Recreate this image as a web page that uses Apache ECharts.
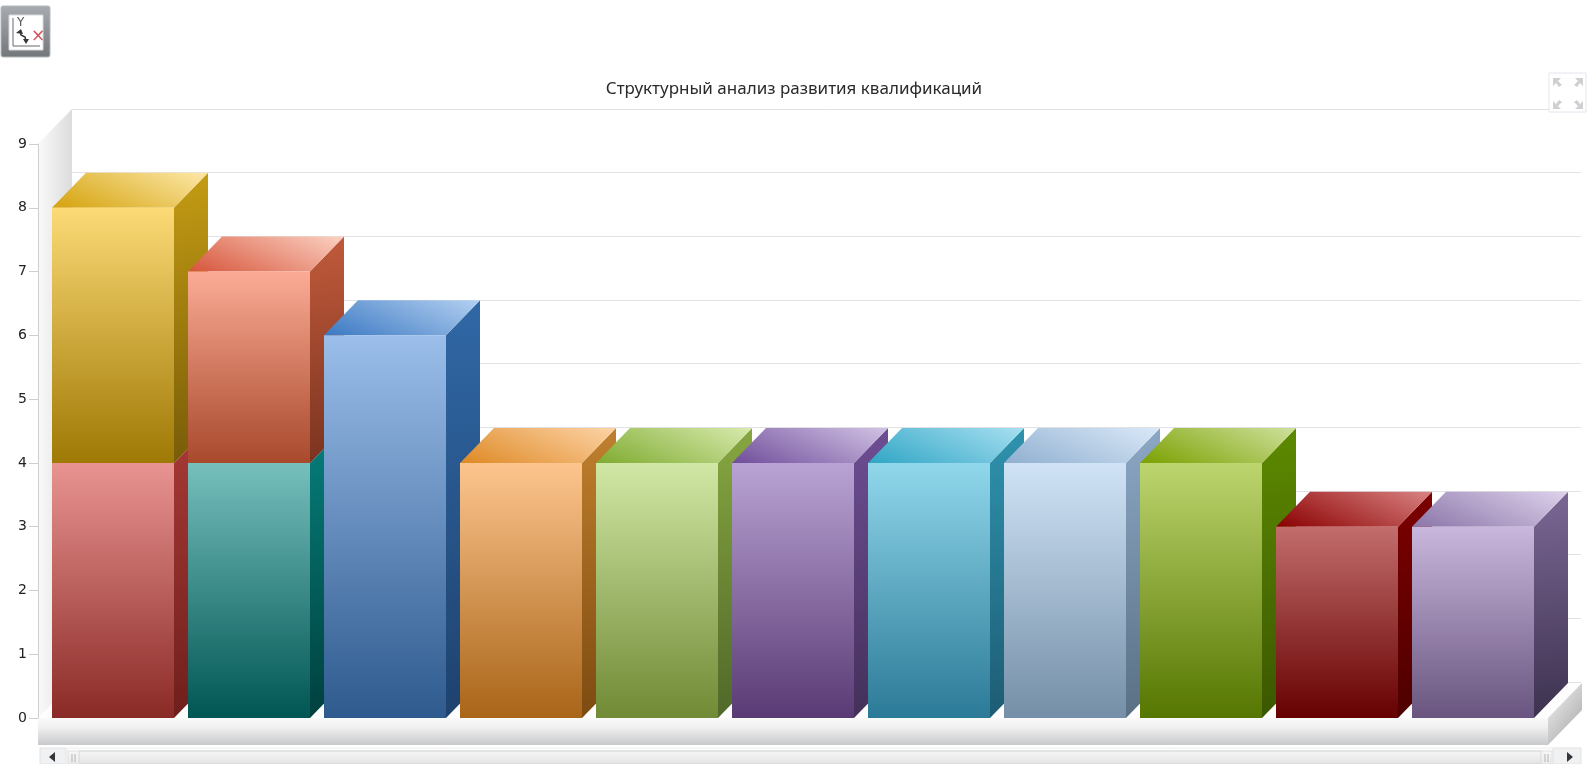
<!DOCTYPE html>
<html><head><meta charset="utf-8">
<style>html,body{margin:0;padding:0;background:#fff}#c{width:1595px;height:764px}</style>
<script src="https://cdn.jsdelivr.net/npm/echarts@6/dist/echarts.min.js"></script>
</head><body><div id="c"></div>
<script>
const titleText = 'Структурный анализ развития квалификаций';
const categories = ['1','2','3','4','5','6','7','8','9','10','11'];
const lowerValues = [4,4,6,4,4,4,4,4,4,3,3];
const upperValues = [4,3,0,0,0,0,0,0,0,0,0];

// [front top, front bottom, side top, side bottom, roof left, roof right]
const lowerPalette = [
  ['#e99492','#8a2a26','#a83a36','#6f1f1c','#a83a36','#e99492'],
  ['#76bfbd','#005653','#067f7b','#00403e','#067f7b','#76bfbd'],
  ['#9bbeea','#2e5a8e','#3068a6','#1f426e','#3a78c2','#b4d0f1'],
  ['#fdc58e','#a96518','#c0802e','#7d4a10','#de8924','#fdd4a8'],
  ['#d1e7a5','#708a35','#87a740','#50682a','#7fab30','#d8eaae'],
  ['#b9a3d4','#5a3a74','#6e4e94','#44305a','#6f4d9a','#d2c3e5'],
  ['#90d7eb','#2b7a97','#2f93ae','#1d5c74','#30a5c5','#a8e0f1'],
  ['#d0e3f6','#748fa7','#8ca8c6','#597084','#8fafd0','#dbe9f8'],
  ['#bdd56e','#557600','#5d8a00','#3b5700','#7aa000','#cfe19d'],
  ['#c36d6d','#660000','#7d0000','#4e0000','#8a0000','#da8383'],
  ['#c9b7dd','#69557f','#7b6795','#3d324f','#8a75a8','#ded2ec']
];
const upperPalette = [
  ['#fcda76','#9f7905','#c49c14','#785c08','#d4a20c','#fde8a8'],
  ['#fbab95','#a8492c','#c15a3b','#7b3420','#d6543a','#fcd2c3']
];

const barRatio = 122 / 136, depthX = 34, depthY = 35, roofSlant = 0.45;
const grad = (x2, y2, c1, c2, y) => ({type:'linear',x:0,y:y||0,x2,y2,colorStops:[{offset:0,color:c1},{offset:1,color:c2}]});
const v = (c1, c2) => grad(0,1,c1,c2);
const h = (c1, c2) => grad(1,0,c1,c2);
const poly = (points, fill) => ({type:'polygon',shape:{points},style:{fill},silent:true});

// corner-to-corner shading of a roof: dark lower left, light upper right
function roofFill(left, top, W, H, c1, c2){
  const a = roofSlant, b = 1, len = Math.hypot(a, b);
  const reach = (W / 2 * a + H / 2 * b) / (len * len);
  const cx = left + W / 2, cy = top + H / 2;
  return {type:'linear',global:true,x:cx-a*reach,y:cy+b*reach,x2:cx+a*reach,y2:cy-b*reach,
    colorStops:[{offset:0,color:c1},{offset:1,color:c2}]};
}

function box(i, from, to, pal, api){
  const bw = api.size([1,0])[0] * barRatio;
  const c0 = api.coord([i, from]), c1 = api.coord([i, to]);
  const l = c0[0] - bw/2, r = c0[0] + bw/2, b = c0[1], t = c1[1];
  return [
    poly([[r,t],[r+depthX,t-depthY],[r+depthX,b-depthY],[r,b]], grad(0.5,1,pal[2],pal[3])),
    poly([[l,t],[l+depthX,t-depthY],[r+depthX,t-depthY],[r,t]], roofFill(l,t-depthY,bw+depthX,depthY,pal[4],pal[5])),
    {type:'rect',shape:{x:l,y:t,width:bw,height:b-t},style:{fill:v(pal[0],pal[1])},silent:true}
  ];
}
const grip = x => [
  {type:'rect',z:11,shape:{x,y:751,width:11,height:13},style:{fill:v('#f8f8f8','#e8e9e8'),stroke:'#e0e2e0'}},
  {type:'line',z:12,shape:{x1:x+4,y1:754,x2:x+4,y2:762},style:{stroke:'#b4b7b6'}},
  {type:'line',z:12,shape:{x1:x+7,y1:754,x2:x+7,y2:762},style:{stroke:'#b4b7b6'}}
];

const option = {
  animation:false,
  backgroundColor:'#fff',
  title:{text:titleText,left:789,top:76,textAlign:'center',
    textStyle:{fontFamily:'"Noto Sans"',fontSize:17,fontWeight:'normal',color:'#2a2a2a'}},
  grid:[
    {left:45,right:54,top:144,bottom:46},
    {left:72,right:14,top:109,bottom:82}
  ],
  xAxis:[
    {type:'category',data:categories,gridIndex:0,axisLine:{show:false},axisTick:{show:false},axisLabel:{show:false}},
    {type:'category',data:categories,gridIndex:1,axisLine:{show:false},axisTick:{show:false},axisLabel:{show:false}}
  ],
  yAxis:[
    {type:'value',gridIndex:0,min:0,max:9,interval:1,offset:7,z:5,
      axisLine:{show:true,lineStyle:{color:'#cfcfcf'}},
      axisTick:{show:true,length:9,lineStyle:{color:'#cfcfcf'}},
      axisLabel:{fontFamily:'"DejaVu Sans"',fontSize:14,color:'#222',margin:11},
      splitLine:{show:false}},
    {type:'value',gridIndex:1,min:0,max:9,interval:1,
      axisLine:{show:false},axisTick:{show:false},axisLabel:{show:false},
      splitLine:{show:true,lineStyle:{color:'#e2e2e4',width:1}}}
  ],
  graphic:[
    // toolbar button
    {type:'rect',z:10,shape:{x:1,y:6,width:49,height:51,r:2},style:{fill:v('#a8acb1','#72777c'),stroke:'#b5b8bb'}},
    {type:'rect',z:11,shape:{x:9,y:15,width:34,height:35},style:{fill:'#fff',stroke:'#d8d8d8'}},
    {type:'polyline',z:12,shape:{points:[[13,18],[13,46],[40,46]]},style:{fill:'none',stroke:'#66696c',lineWidth:1}},
    {type:'text',z:12,style:{text:'Y',x:17,y:17,fontFamily:'"DejaVu Sans"',fontSize:12,fill:'#555'}},
    {type:'text',z:12,style:{text:'×',x:31,y:28,fontFamily:'"DejaVu Sans"',fontSize:17,fill:'#d4535b'}},
    {type:'polyline',z:12,shape:{points:[[20,31],[21,35],[25,37],[26,41]]},style:{fill:'none',stroke:'#33373a',lineWidth:1.5}},
    {type:'polygon',z:12,shape:{points:[[16,33],[21,29],[23,34]]},style:{fill:'#33373a'}},
    {type:'polygon',z:12,shape:{points:[[23,39],[29,39],[26,44]]},style:{fill:'#33373a'}},
    // full-screen icon
    {type:'rect',z:10,shape:{x:1549,y:73,width:37,height:39},style:{fill:'#fff',stroke:'#e3e6ef'}},
    {type:'polygon',z:11,shape:{points:[[1553,78],[1561,78],[1558,81],[1562,85],[1559,87],[1556,83],[1553,86]]},style:{fill:'#cfd0d2'}},
    {type:'polygon',z:11,shape:{points:[[1583,78],[1575,78],[1578,81],[1574,85],[1577,87],[1580,83],[1583,86]]},style:{fill:'#cfd0d2'}},
    {type:'polygon',z:11,shape:{points:[[1553,109],[1561,109],[1558,106],[1562,102],[1559,100],[1556,104],[1553,101]]},style:{fill:'#cfd0d2'}},
    {type:'polygon',z:11,shape:{points:[[1583,109],[1575,109],[1578,106],[1574,102],[1577,100],[1580,104],[1583,101]]},style:{fill:'#cfd0d2'}},
    // scrollbar
    {type:'rect',z:10,shape:{x:40,y:748,width:26,height:16},style:{fill:'#f0f1f2',stroke:'#e2e3e5'}},
    {type:'polygon',z:11,shape:{points:[[49,757],[55,752],[55,762]]},style:{fill:'#33363a'}},
    {type:'rect',z:10,shape:{x:67,y:748,width:1486,height:16},style:{fill:'#fbfbfb',stroke:'#eeeff0'}},
    {type:'rect',z:11,shape:{x:79,y:751,width:1462,height:13},style:{fill:v('#f6f7f6','#e2e4e2'),stroke:'#cfd2d0'}},
    ...grip(68), ...grip(1541),
    {type:'rect',z:10,shape:{x:1553,y:748,width:28,height:16},style:{fill:'#f0f1f2',stroke:'#e2e3e5'}},
    {type:'polygon',z:11,shape:{points:[[1573,757],[1567,752],[1567,762]]},style:{fill:'#33363a'}}
  ],
  series:[
    {type:'custom',xAxisIndex:0,yAxisIndex:0,z:1,silent:true,data:[[0,0]],
      renderItem(params, api){
        const bl = api.coord([0,0]), tl = api.coord([0,9]);
        const band = api.size([1,0])[0], half = band / 2;
        const x0 = bl[0] - half - 7, xEnd = bl[0] - half + 11 * band + 7;
        const y0 = bl[1], y9 = tl[1], thick = 27;
        return {type:'group',children:[
          poly([[x0,y9],[x0+depthX,y9-depthY],[x0+depthX,y0-depthY],[x0,y0]], h('#fafafa','#dcdcde')),
          poly([[x0,y0],[x0+depthX,y0-depthY],[xEnd+depthX,y0-depthY],[xEnd,y0]], '#fdfdfd'),
          {type:'rect',shape:{x:x0,y:y0,width:xEnd-x0,height:thick},silent:true,
            style:{fill:{type:'linear',x:0,y:0,x2:0,y2:1,colorStops:[{offset:0,color:'#fafafa'},{offset:0.35,color:'#f0f0f0'},{offset:1,color:'#c8c9cb'}]}}},
          poly([[xEnd,y0],[xEnd+depthX,y0-depthY],[xEnd+depthX,y0-depthY+thick],[xEnd,y0+thick]], grad(1,0.4,'#f4f4f3','#bdbebd'))
        ]};
      }},
    {type:'custom',xAxisIndex:0,yAxisIndex:0,z:2,silent:true,
      data:categories.map((c,i)=>[i,lowerValues[i],upperValues[i]]),
      encode:{x:0,y:1},
      renderItem(params, api){
        const i = api.value(0), lo = api.value(1), up = api.value(2);
        let children = box(i,0,lo,lowerPalette[i],api);
        if(up>0) children = children.concat(box(i,lo,lo+up,upperPalette[i],api));
        return {type:'group',children};
      }}
  ]
};
echarts.init(document.getElementById('c'),null,{renderer:'canvas'}).setOption(option);
</script></body></html>
